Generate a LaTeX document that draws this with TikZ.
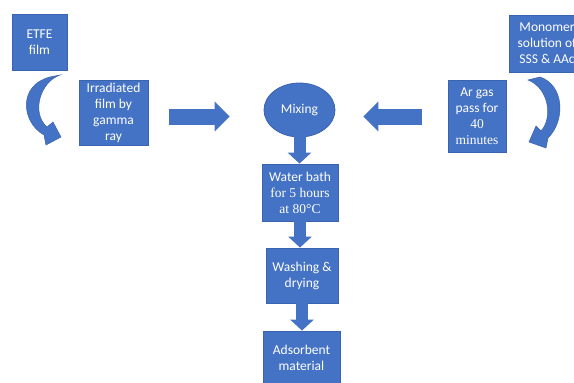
\documentclass[tikz,border=0pt]{standalone}
\usepackage{fontspec}
\setmainfont{Carlito}
\newfontfamily\serifx{Liberation Serif}
\usetikzlibrary{arrows.meta,shapes.geometric}
\definecolor{ofblue}{HTML}{4472C4}
\definecolor{ofedge}{HTML}{3A64B0}
\begin{document}
\begin{tikzpicture}[x=1pt,y=-1pt,
  box/.style={fill=ofblue, draw=ofedge, line width=0.8pt, text=white, align=center, inner sep=0pt, font=\fontsize{13.5}{16}\selectfont},
  blockarrow/.style={draw=ofblue, line width=16pt, -{Triangle[width=29pt,length=15pt]}},
  downarrow/.style={draw=ofblue, line width=12pt, -{Triangle[width=23pt,length=11pt]}},
  curvearrow/.style={fill=ofblue, draw=ofedge, line width=0.5pt}]
\useasboundingbox (0,0) rectangle (574,383);
\clip (0,0) rectangle (574,383);
\fill[white] (0,0) rectangle (574,383);

\node[box, minimum width=55pt, minimum height=56pt] (etfe) at (39.5,42) {ETFE\\film};
\node[box, minimum width=69pt, minimum height=65pt] (irr) at (113.5,112.5) {Irradiated\\film by\\gamma\\ray};
\node[box, ellipse, minimum width=71pt, minimum height=54pt] (mix) at (299.5,110) {Mixing};
\node[box, minimum width=58pt, minimum height=72pt] (ar) at (477,116) {Ar gas\\pass for\\{\serifx 40}\\{\serifx minutes}};
\node[box, minimum width=76pt, minimum height=57pt] (mono) at (547,43.5) {Monomer\\solution of\\SSS \& AAc};
\node[box, minimum width=76pt, minimum height=57pt] (water) at (300,192.5) {Water bath\\{\serifx for 5 hours}\\{\serifx at 80°C}};
\node[box, minimum width=72pt, minimum height=55pt] (wash) at (302,275.5) {Washing \&\\drying};
\node[box, minimum width=77pt, minimum height=54pt] (ads) at (301.5,358) {Adsorbent\\material};

% block arrows
\draw[blockarrow] ([xshift=21pt,yshift=-4pt]irr.east) -- ([xshift=-34pt,yshift=-6.5pt]mix.west);
\draw[blockarrow] ([xshift=-26pt,yshift=-0.5pt]ar.west) -- ([xshift=28pt,yshift=-6.5pt]mix.east);
\draw[downarrow] ([yshift=1pt]mix.south) -- (mix.south |- water.north);
\draw[downarrow] (water.south) -- (water.south |- wash.north);
\draw[downarrow] (wash.south) -- (wash.south |- ads.north);

% curved arrows
\filldraw[curvearrow] (60,75) .. controls (40,82) and (31,113) .. (47,127) -- (53,122) -- (61,137) -- (46,145) -- (44,135) .. controls (21,122) and (18,85) .. (50,77) -- cycle;
\filldraw[curvearrow] (528,80) .. controls (549,88) and (553,118) .. (541,131) -- (536,126) -- (529,142) -- (546,148) -- (548,138) .. controls (566,120) and (564,85) .. (540,77) -- cycle;
\end{tikzpicture}
\end{document}
